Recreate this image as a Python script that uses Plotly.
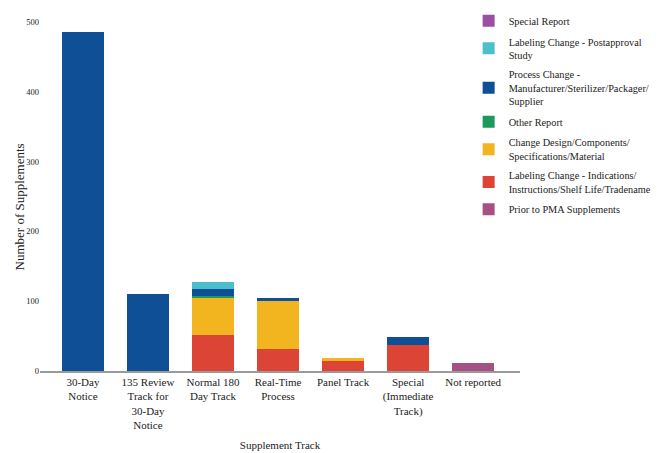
import plotly.graph_objects as go

# categories on the x axis
tracks = ["30-Day<br>Notice", "135 Review<br>Track for<br>30-Day<br>Notice", "Normal 180<br>Day Track",
          "Real-Time<br>Process", "Panel Track", "Special<br>(Immediate<br>Track)", "Not reported"]

# series values per track
prior_pma = [0, 0, 0, 0, 0, 0, 12]
label_indications = [0, 0, 52, 32, 15, 37, 0]
change_design = [0, 0, 53, 69, 3, 0, 0]
other_report = [0, 0, 2, 0, 0, 0, 0]
process_change = [485, 110, 11, 4, 0, 12, 0]
label_postapproval = [0, 0, 9, 0, 0, 0, 0]
special_report = [0, 0, 0, 0, 0, 0, 0]

y_ticks = [0, 100, 200, 300, 400, 500]

series = [
    ("Prior to PMA Supplements", prior_pma, "#a65183"),
    ("Labeling Change - Indications/<br>Instructions/Shelf Life/Tradename", label_indications, "#dc4535"),
    ("Change Design/Components/<br>Specifications/Material", change_design, "#f2b520"),
    ("Other Report", other_report, "#1b9a5b"),
    ("Process Change -<br>Manufacturer/Sterilizer/Packager/<br>Supplier", process_change, "#0e4f95"),
    ("Labeling Change - Postapproval<br>Study", label_postapproval, "#4cbfcd"),
    ("Special Report", special_report, "#9a4fa3"),
]

font_name = "Liberation Serif"

fig = go.Figure()
for i, (name, vals, color) in enumerate(series):
    # stacked bottom-up, listed top-down in the legend
    fig.add_trace(go.Bar(x=list(range(len(tracks))), y=vals, name=name,
                         marker_color=color, marker_line_width=0,
                         legendgroup=str(i), legendrank=100 - i * 10))

fig.update_layout(
    barmode="stack",
    bargap=0.35,
    width=666, height=453,
    margin=dict(l=40, r=146, t=6, b=82),
    plot_bgcolor="white", paper_bgcolor="white",
    font=dict(family=font_name, color="#222222"),
    showlegend=True,
    legend=dict(x=0.893, xanchor="left", y=1.045, yanchor="top",
                traceorder="grouped", maxheight=1,
                font=dict(size=10.3, family=font_name, color="#222222"),
                tracegroupgap=3, itemwidth=30, bgcolor="rgba(0,0,0,0)"),
)

fig.update_xaxes(range=[-0.66, 6.72], tickvals=list(range(len(tracks))), ticktext=tracks,
                 showline=True, linecolor="#9a9a9a", linewidth=1.5, ticks="",
                 tickfont=dict(size=11, family=font_name, color="#222222"),
                 title=dict(text="Supplement Track", font=dict(size=11, family=font_name), standoff=11),
                 showgrid=False, zeroline=False, automargin=False)

fig.update_yaxes(range=[0, 500], tickvals=y_ticks, showgrid=False, zeroline=False,
                 showline=False, ticks="", automargin=False,
                 tickfont=dict(size=8.5, family=font_name, color="#222222"))

fig.add_annotation(text="Number of Supplements", xref="paper", yref="paper",
                   x=-0.0625, y=0.47, textangle=-90, showarrow=False,
                   font=dict(size=13, family=font_name, color="#222222"))

# drop the default page margin so the figure sits at the window's corner
fig.write_html("out.html", config={"displayModeBar": False},
               post_script="document.body.style.margin='0';")
